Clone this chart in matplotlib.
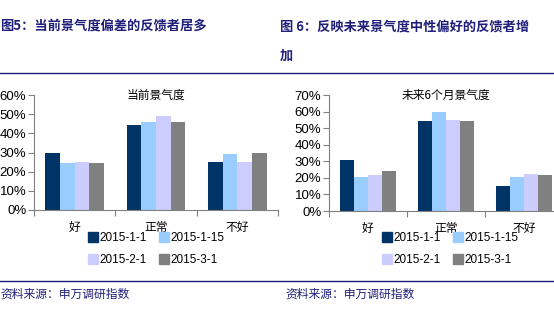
import numpy as np
import matplotlib
matplotlib.use("Agg")
import matplotlib.pyplot as plt
from matplotlib.lines import Line2D

plt.rcParams['font.family'] = ['Liberation Sans', 'Noto Sans CJK SC', 'DejaVu Sans']

categories = ['好', '正常', '不好']
dates = ['2015-1-1', '2015-1-15', '2015-2-1', '2015-3-1']
colors = ['#003366', '#99CCFF', '#CCCCFF', '#808080']

# 当前景气度 (%)
current = [
    [30.0, 44.5, 25.0],
    [24.5, 46.0, 29.2],
    [25.0, 49.0, 25.0],
    [24.5, 46.0, 29.7],
]
# 未来6个月景气度 (%)
future = [
    [31.0, 54.5, 15.0],
    [20.5, 59.5, 20.3],
    [22.0, 55.0, 22.5],
    [24.0, 54.5, 22.0],
]

W, H = 554, 325
fig = plt.figure(figsize=(W / 100, H / 100), dpi=100)
navy = '#1F1F7A'


def px_axes(x0, y0, x1, y1):
    return fig.add_axes([x0 / W, 1 - y1 / H, (x1 - x0) / W, (y1 - y0) / H])


def draw_panel(ax, data, ymax, title):
    n = len(dates)
    bw = 0.72 / n
    x = np.arange(len(categories))
    for i in range(n):
        ax.bar(x - 0.36 + bw * (i + 0.5), data[i], width=bw, color=colors[i], linewidth=0)
    ax.set_xlim(-0.5, len(categories) - 0.5)
    ax.set_ylim(0, ymax)
    ax.set_yticks(np.arange(0, ymax + 1, 10))
    ax.set_yticklabels(['%d%%' % v for v in np.arange(0, ymax + 1, 10)], fontsize=9.5)
    ax.set_xticks(np.arange(-0.5, len(categories) + 0.5, 1))
    ax.set_xticklabels([])
    ax.tick_params(axis='both', direction='out', length=4, color='#808080', pad=1.5)
    for s in ['top', 'right']:
        ax.spines[s].set_visible(False)
    for s in ['left', 'bottom']:
        ax.spines[s].set_color('#808080')
    for xi, c in zip(x, categories):
        ax.text(xi, -0.155 * ymax, c, ha='center', va='center', fontsize=8.5,
                family=['Noto Sans CJK SC'])
    ax.text(0.5, 1.0, title, transform=ax.transAxes, ha='center', va='center',
            fontsize=8.5, family=['Noto Sans CJK SC', 'DejaVu Sans'])


ax1 = px_axes(34, 95, 278, 210)
draw_panel(ax1, current, 60, '当前景气度')
ax2 = px_axes(329, 95, 563, 211)
draw_panel(ax2, future, 70, '未来6个月景气度')

handles = [Line2D([], [], marker='s', linestyle='', markersize=7, color=c) for c in colors]
order = [0, 2, 1, 3]  # 按行排列：1-1, 1-15 / 2-1, 3-1
for x0 in [81, 375]:
    fig.legend([handles[k] for k in order], [dates[k] for k in order],
               ncol=2, loc='upper left', bbox_to_anchor=(x0 / W, 1 - 226 / H),
               frameon=False, fontsize=8.5, handletextpad=0.1, columnspacing=0.9,
               labelspacing=0.85, borderpad=0, handlelength=1.0)

# 标题
fig.text(0 / W, 1 - 26 / H, '图5：当前景气度偏差的反馈者居多', ha='left', va='center',
         fontsize=9.5, fontweight='bold', color=navy, family=['Noto Sans CJK SC'])
fig.text(280 / W, 1 - 26 / H, '图 6：反映未来景气度中性偏好的反馈者增', ha='left', va='center',
         fontsize=9.5, fontweight='bold', color=navy, family=['Noto Sans CJK SC'])
fig.text(280 / W, 1 - 56 / H, '加', ha='left', va='center',
         fontsize=9.5, fontweight='bold', color=navy, family=['Noto Sans CJK SC'])

fig.add_artist(Line2D([0, 1], [1 - 73 / H, 1 - 73 / H], color=navy, linewidth=1.0))
fig.add_artist(Line2D([0, 1], [1 - 281 / H, 1 - 281 / H], color=navy, linewidth=1.0))

fig.text(0 / W, 1 - 294 / H, '资料来源：申万调研指数', ha='left', va='center',
         fontsize=8.5, color=navy, family=['Noto Sans CJK SC'])
fig.text(285 / W, 1 - 294 / H, '资料来源：申万调研指数', ha='left', va='center',
         fontsize=8.5, color=navy, family=['Noto Sans CJK SC'])

fig.savefig('out.png', dpi=100)
